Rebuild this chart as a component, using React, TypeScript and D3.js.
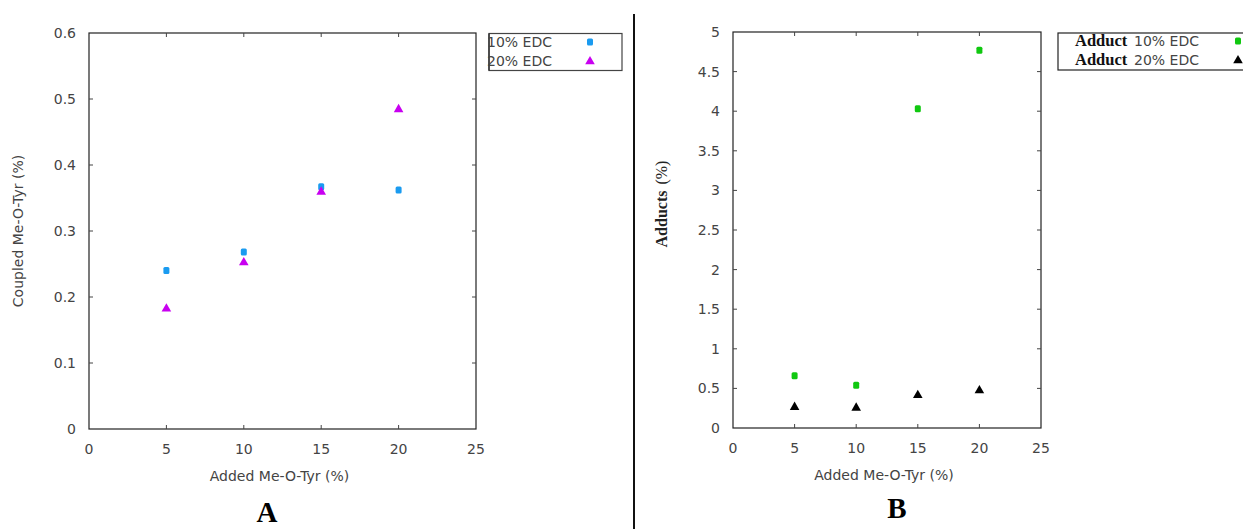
import * as d3 from "d3";
import React from "react";

const W = 1243;
const H = 529;

// x categories (added Me-O-Tyr, %)
const added = [5, 10, 15, 20];

// panel A: coupled Me-O-Tyr (%)
const coupled10 = [0.24, 0.268, 0.367, 0.362];
const coupled20 = [0.183, 0.253, 0.36, 0.485];

// panel B: adducts (%)
const adducts10 = [0.66, 0.54, 4.03, 4.77];
const adducts20 = [0.27, 0.26, 0.42, 0.48];

const xTicks = [0, 5, 10, 15, 20, 25];
const yTicksA = [0, 0.1, 0.2, 0.3, 0.4, 0.5, 0.6];
const yTicksB = [0, 0.5, 1, 1.5, 2, 2.5, 3, 3.5, 4, 4.5, 5];

const legendA = ["10% EDC", "20% EDC"];
const legendB = ["10% EDC", "20% EDC"];

const SANS = "'DejaVu Sans', Verdana, sans-serif";
const SERIF = "'Liberation Serif', 'Times New Roman', serif";
const TXT = "#444";
const FS = 14;

type Series = { values: number[]; color: string; shape: "square" | "triangle" };

function Marker({ x, y, s }: { x: number; y: number; s: Series }) {
  if (s.shape === "square") {
    return <rect x={x - 3} y={y - 3.5} width={6} height={7} rx={1.5} fill={s.color} />;
  }
  const path = d3.symbol(d3.symbolTriangle, 40)() as string;
  return <path d={path} transform={`translate(${x},${y + 0.5})`} fill={s.color} />;
}

function Panel(props: {
  left: number;
  right: number;
  top: number;
  bottom: number;
  yMax: number;
  yTicks: number[];
  series: Series[];
  fmt: (v: number) => string;
}) {
  const { left, right, top, bottom, yMax, yTicks, series, fmt } = props;
  const x = d3.scaleLinear().domain([0, 25]).range([left, right]);
  const y = d3.scaleLinear().domain([0, yMax]).range([bottom, top]);
  const tk = 4;
  return (
    <g>
      <rect x={left} y={top} width={right - left} height={bottom - top} fill="none" stroke="#222" strokeWidth={1.2} />
      {xTicks.slice(1, -1).map((t) => (
        <g key={"xt" + t}>
          <line x1={x(t)} x2={x(t)} y1={bottom} y2={bottom - tk} stroke="#444" />
          <line x1={x(t)} x2={x(t)} y1={top} y2={top + tk} stroke="#444" />
        </g>
      ))}
      {xTicks.map((t) => (
        <text key={"xl" + t} x={x(t)} y={bottom + 25} textAnchor="middle" fontFamily={SANS} fontSize={FS} fill={TXT}>
          {t}
        </text>
      ))}
      {yTicks.slice(1, -1).map((t) => (
        <g key={"yt" + t}>
          <line x1={left} x2={left + tk} y1={y(t)} y2={y(t)} stroke="#444" />
          <line x1={right} x2={right - tk} y1={y(t)} y2={y(t)} stroke="#444" />
        </g>
      ))}
      {yTicks.map((t) => (
        <text key={"yl" + t} x={left - 13} y={y(t) + 5} textAnchor="end" fontFamily={SANS} fontSize={FS} fill={TXT}>
          {fmt(t)}
        </text>
      ))}
      <text x={(left + right) / 2 - 3} y={bottom + 52} textAnchor="middle" fontFamily={SANS} fontSize={FS} fill={TXT}>
        Added Me-O-Tyr (%)
      </text>
      {series.map((s, si) =>
        s.values.map((v, i) => <Marker key={si + "-" + i} x={x(added[i])} y={y(v)} s={s} />)
      )}
    </g>
  );
}

export default function App() {
  const seriesA: Series[] = [
    { values: coupled10, color: "#1a9bf0", shape: "square" },
    { values: coupled20, color: "#c800f0", shape: "triangle" },
  ];
  const seriesB: Series[] = [
    { values: adducts10, color: "#10c810", shape: "square" },
    { values: adducts20, color: "#000000", shape: "triangle" },
  ];
  return (
    <svg width={W} height={H} style={{ position: "absolute", left: 0, top: 0, background: "#fff" }}>
      <rect width={W} height={H} fill="#fff" />
      <Panel left={89} right={476} top={33} bottom={429} yMax={0.6} yTicks={yTicksA} series={seriesA} fmt={(v) => String(+v.toFixed(1))} />
      <Panel left={733} right={1041} top={32} bottom={428} yMax={5} yTicks={yTicksB} series={seriesB} fmt={(v) => String(v)} />

      {/* y titles */}
      <text transform="translate(23,231) rotate(-90)" textAnchor="middle" fontFamily={SANS} fontSize={FS} fill={TXT}>
        Coupled Me-O-Tyr (%)
      </text>
      <text transform="translate(667,204) rotate(-90)" textAnchor="middle" fontFamily={SERIF} fontSize={16} fill="#222">
        <tspan fontWeight="bold">Adducts</tspan>
        <tspan dx={6}>(%)</tspan>
      </text>

      {/* legend A */}
      <rect x={489} y={33.5} width={133} height={37} fill="#fff" stroke="#444" strokeWidth={1.2} />
      <line x1={489} x2={489} y1={33.5} y2={70.5} stroke="#222" strokeWidth={1.2} />
      {legendA.map((l, i) => (
        <g key={l}>
          <text x={487} y={47 + i * 19} fontFamily={SANS} fontSize={FS} fill={TXT}>
            {l}
          </text>
          <Marker x={590} y={42 + i * 19} s={seriesA[i]} />
        </g>
      ))}

      {/* legend B */}
      <rect x={1058} y={33} width={190} height={37} fill="#fff" stroke="#222" strokeWidth={1.2} />
      {legendB.map((l, i) => (
        <g key={l + "b"}>
          <text x={1075} y={46 + i * 19} fontFamily={SERIF} fontWeight="bold" fontSize={16.5} fill="#111">
            Adduct
          </text>
          <text x={1134} y={46 + i * 19} fontFamily={SANS} fontSize={FS} fill={TXT}>
            {l}
          </text>
          <Marker x={1238} y={41 + i * 19} s={seriesB[i]} />
        </g>
      ))}

      {/* divider */}
      <line x1={634} x2={634} y1={14} y2={H} stroke="#111" strokeWidth={2} />

      {/* panel letters */}
      <text x={267} y={522} textAnchor="middle" fontFamily={SERIF} fontWeight="bold" fontSize={29} fill="#000">
        A
      </text>
      <text x={897} y={518} textAnchor="middle" fontFamily={SERIF} fontWeight="bold" fontSize={29} fill="#000">
        B
      </text>
    </svg>
  );
}
